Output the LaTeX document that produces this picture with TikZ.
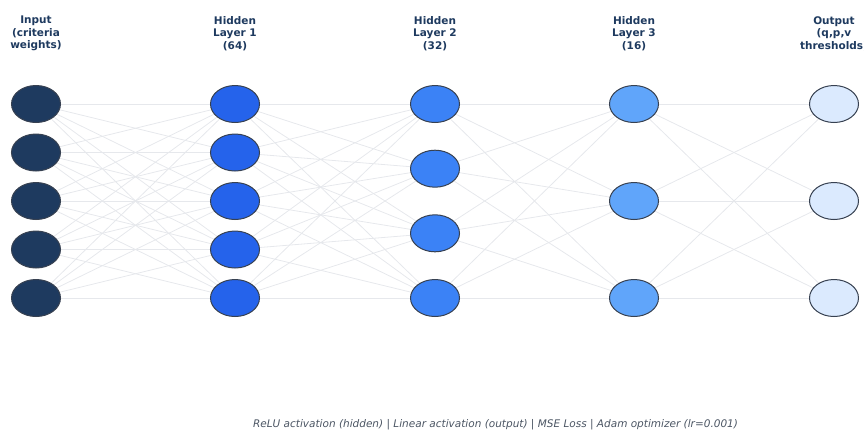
\documentclass[tikz,border=0pt]{standalone}
\usepackage{fontspec}
\setmainfont{DejaVu Sans}
\usetikzlibrary{shapes.geometric,backgrounds}

\definecolor{InputNavy}{HTML}{1E3A5F}
\definecolor{HiddenOne}{HTML}{2563EB}
\definecolor{HiddenTwo}{HTML}{3B82F6}
\definecolor{HiddenThree}{HTML}{60A5FA}
\definecolor{OutputPale}{HTML}{DBEAFE}
\definecolor{RimGray}{HTML}{374151}
\definecolor{EdgeGray}{HTML}{E6E8EC}
\definecolor{NoteGray}{HTML}{4B5563}

\begin{document}
\begin{tikzpicture}[x=1pt, y=-1pt]
    \useasboundingbox (0,0) rectangle (864,432);

    \tikzset{NeuronStyle/.style={ellipse, draw=RimGray, line width=1pt,
             minimum width=49pt, minimum height=37pt, inner sep=0pt}}
    \tikzset{TitleStyle/.style={align=center, text=InputNavy,
             font=\bfseries\fontsize{10.5}{12.5}\selectfont}}
    \tikzset{EdgeStyle/.style={draw=EdgeGray, line width=0.8pt}}

    % layer titles
    \node[TitleStyle] (tIn) at (36,33.5)  {Input\\(criteria\\weights)};
    \node[TitleStyle] (tH1) at (235,33.5) {Hidden\\Layer 1\\(64)};
    \node[TitleStyle] (tH2) at (435,33.5) {Hidden\\Layer 2\\(32)};
    \node[TitleStyle] (tH3) at (634,33.5) {Hidden\\Layer 3\\(16)};
    \node[TitleStyle] (tOut) at (834,33.5) {Output\\(q,p,v\\thresholds)};

    % neurons
    \tikzset{NeuronStyle/.append style={fill=InputNavy}}
    \foreach \y [count=\i] in {104,152.5,201,249.5,298}
        \node[NeuronStyle] (I\i) at (36,\y) {};

    \tikzset{NeuronStyle/.append style={fill=HiddenOne}}
    \foreach \y [count=\i] in {104,152.5,201,249.5,298}
        \node[NeuronStyle] (A\i) at (235,\y) {};

    \tikzset{NeuronStyle/.append style={fill=HiddenTwo}}
    \foreach \y [count=\i] in {104,168.7,233.3,298}
        \node[NeuronStyle] (B\i) at (435,\y) {};

    \tikzset{NeuronStyle/.append style={fill=HiddenThree}}
    \foreach \y [count=\i] in {104,201,298}
        \node[NeuronStyle] (C\i) at (634,\y) {};

    \tikzset{NeuronStyle/.append style={fill=OutputPale}}
    \foreach \y [count=\i] in {104,201,298}
        \node[NeuronStyle] (O\i) at (834,\y) {};

    % connections, all layers fully linked
    \begin{scope}[on background layer]
        \foreach \i in {1,...,5} \foreach \j in {1,...,5}
            \draw[EdgeStyle] (I\i.center) -- (A\j.center);
        \foreach \i in {1,...,5} \foreach \j in {1,...,4}
            \draw[EdgeStyle] (A\i.center) -- (B\j.center);
        \foreach \i in {1,...,4} \foreach \j in {1,...,3}
            \draw[EdgeStyle] (B\i.center) -- (C\j.center);
        \foreach \i in {1,...,3} \foreach \j in {1,...,3}
            \draw[EdgeStyle] (C\i.center) -- (O\j.center);
    \end{scope}

    % training setup note
    \node[text=NoteGray, font=\itshape\fontsize{10.5}{12.5}\selectfont] (note) at (495.5,425)
        {ReLU activation (hidden) | Linear activation (output) | MSE Loss | Adam optimizer (lr=0.001)};
\end{tikzpicture}
\end{document}
